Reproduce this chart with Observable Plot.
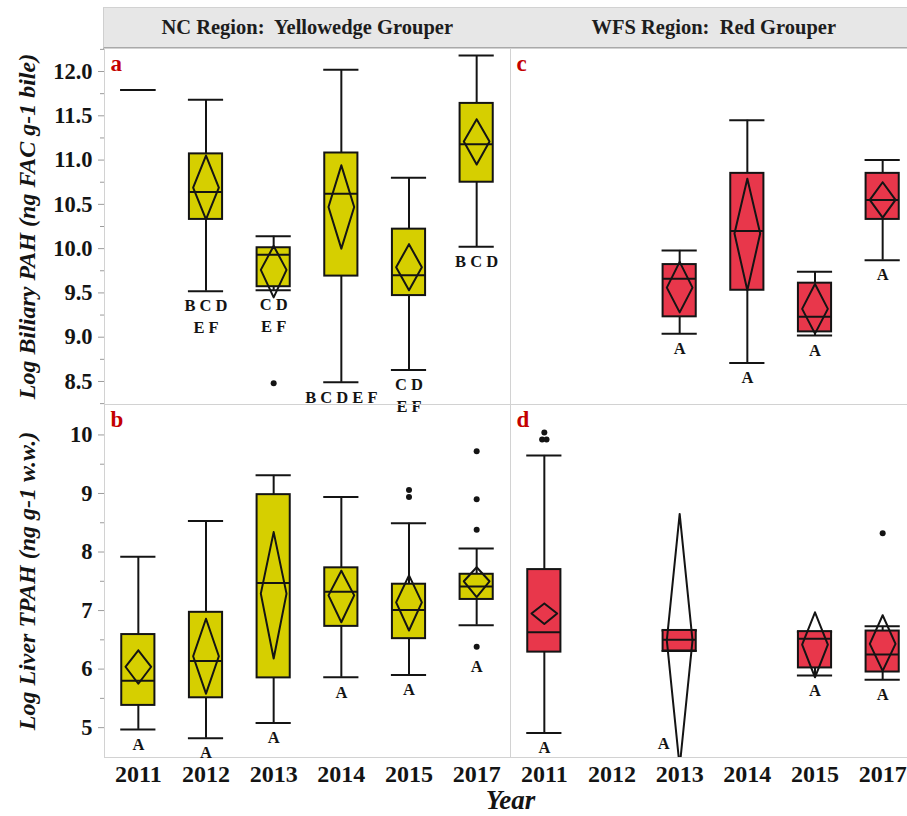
<!DOCTYPE html>
<html>
<head>
<meta charset="utf-8">
<script src="https://cdn.jsdelivr.net/npm/d3@7"></script>
<script src="https://cdn.jsdelivr.net/npm/@observablehq/plot@0.6"></script>
<style>
  html, body { margin: 0; padding: 0; background: #fff; overflow: hidden; width: 907px; height: 816px; }
  #chart { position: relative; width: 916px; height: 816px; }
  .header {
    position: absolute; left: 103px; top: 7px; width: 813px; height: 39px;
    background: #e7e7e7; border-top: 1px solid #d2d2d2; border-left: 1px solid #cfcfcf;
    border-bottom: 2px solid #a9a9a9; display: flex;
    font-family: "Liberation Serif", "Times New Roman", serif; font-weight: bold;
    font-size: 20.5px; color: #1d1d1d;
  }
  .header div { flex: 1; display: flex; align-items: center; justify-content: center; white-space: pre; }
  #topPanel { position: absolute; left: 0; top: 48px; }
  #bottomPanel { position: absolute; left: 0; top: 404px; }
</style>
</head>
<body>
<div id="chart">
  <div class="header" id="header"></div>
  <div id="topPanel"></div>
  <div id="bottomPanel"></div>
</div>
<script>
// Sampling years (x categories) and the two regions (column facets)
const years = ["2011", "2012", "2013", "2014", "2015", "2017"];
const regionKeys = ["NC", "WFS"];
const regionTitles = ["NC Region:  Yellowedge Grouper", "WFS Region:  Red Grouper"];
const regionFills = ["#d6cf00", "#e8374b"];

// Panel tags and y-axis titles
const bileTags = ["a", "c"];
const liverTags = ["b", "d"];
const bileTitle = "Log Biliary PAH (ng FAC g-1 bile)";
const liverTitle = "Log Liver TPAH (ng g-1 w.w.)";

// Y tick labels
const bileTicks = [8.5, 9.0, 9.5, 10.0, 10.5, 11.0, 11.5, 12.0];
const liverTicks = [5, 6, 7, 8, 9, 10];

// Box summaries: year, lower whisker, Q1, median, Q3, upper whisker,
// lower 95% CI, mean, upper 95% CI, letter grouping
const bileNC = [
  ["2011", 11.79, 11.79, 11.79, 11.79, 11.79, null, null, null, ""],
  ["2012", 9.52, 10.33, 10.64, 11.07, 11.68, 10.33, 10.69, 11.05, "B C D\nE F"],
  ["2013", 9.53, 9.57, 9.93, 10.01, 10.14, 9.45, 9.76, 10.03, "C D\nE F"],
  ["2014", 8.49, 9.69, 10.62, 11.08, 12.02, 10.00, 10.47, 10.94, "B C D E F"],
  ["2015", 8.63, 9.47, 9.70, 10.22, 10.80, 9.53, 9.79, 10.05, "C D\nE F"],
  ["2017", 10.02, 10.75, 11.18, 11.64, 12.18, 10.95, 11.21, 11.46, "B C D"]
];
const bileWFS = [
  ["2013", 9.04, 9.23, 9.66, 9.82, 9.98, 9.28, 9.56, 9.85, "A"],
  ["2014", 8.71, 9.53, 10.20, 10.85, 11.45, 9.53, 10.17, 10.79, "A"],
  ["2015", 9.02, 9.06, 9.23, 9.61, 9.74, 9.04, 9.32, 9.60, "A"],
  ["2017", 9.87, 10.33, 10.55, 10.85, 11.00, 10.35, 10.55, 10.75, "A"]
];
const liverNC = [
  ["2011", 4.97, 5.38, 5.80, 6.59, 7.92, 5.75, 6.04, 6.32, "A"],
  ["2012", 4.82, 5.51, 6.14, 6.97, 8.53, 5.58, 6.22, 6.86, "A"],
  ["2013", 5.08, 5.85, 7.47, 8.98, 9.31, 6.18, 7.29, 8.34, "A"],
  ["2014", 5.86, 6.73, 7.32, 7.73, 8.94, 6.80, 7.26, 7.68, "A"],
  ["2015", 5.90, 6.52, 7.01, 7.45, 8.49, 6.66, 7.14, 7.60, "A"],
  ["2017", 6.75, 7.19, 7.41, 7.62, 8.06, 7.23, 7.50, 7.74, "A"]
];
const liverWFS = [
  ["2011", 4.91, 6.29, 6.63, 7.70, 9.65, 6.77, 6.95, 7.12, "A"],
  ["2013", 6.31, 6.31, 6.50, 6.66, 6.66, 4.33, 6.49, 8.65, "A"],
  ["2015", 5.89, 6.02, 6.52, 6.64, 6.64, 5.86, 6.42, 6.97, "A"],
  ["2017", 5.82, 5.95, 6.25, 6.65, 6.73, 5.97, 6.43, 6.92, "A"]
];

// Outlying observations: year, value
const bileNCOut = [["2013", 8.48]];
const bileWFSOut = [];
const liverNCOut = [["2015", 9.06], ["2015", 8.94], ["2017", 9.72], ["2017", 8.90], ["2017", 8.38], ["2017", 6.38]];
const liverWFSOut = [["2011", 10.04], ["2011", 9.92], ["2011", 9.92], ["2017", 8.32]];

const FONT = '"Liberation Serif", "Times New Roman", serif';
const INK = "#141414";
const BOX_HALF = 0.245, CAP_HALF = 0.26, DIAMOND_HALF = 0.19;

// Column headers
const header = document.getElementById("header");
regionTitles.forEach(t => { const d = document.createElement("div"); d.textContent = t; header.appendChild(d); });

function toRows(arr, region) {
  return arr.map(([year, lo, q1, med, q3, hi, ciLo, mean, ciHi, letters]) =>
    ({region, year, i: years.indexOf(year), lo, q1, med, q3, hi, ciLo, mean, ciHi, letters}));
}
function toOutliers(arr, region) {
  const pts = arr.map(([year, v]) => ({region, year, i: years.indexOf(year), v}));
  // identical values sit side by side
  const groups = d3.group(pts, d => `${d.year}|${d.v}`);
  for (const g of groups.values()) g.forEach((d, k) => { d.x = d.i + (k - (g.length - 1) / 2) * 0.065; });
  return pts;
}

function panelMarks({rows, outliers, domain, ticks, minor, fmt, title, tags, xAxis}) {
  const fillOf = d => regionFills[regionKeys.indexOf(d.region)];
  const diamonds = rows.filter(d => d.mean != null).flatMap(d =>
    [[0, d.ciHi], [DIAMOND_HALF, d.mean], [0, d.ciLo], [-DIAMOND_HALF, d.mean], [0, d.ciHi]]
      .map(([o, v]) => ({region: d.region, key: d.region + d.year, x: d.i + o, y: v})));

  // letter groupings go below the lower whisker, or below a low outlier close to it
  const underWhisker = [], underOutlier = [], atFloor = [];
  for (const d of rows) {
    if (!d.letters) continue;
    if (d.ciLo != null && d.ciLo < domain[0]) { atFloor.push(d); continue; }
    const near = outliers.filter(o => o.region === d.region && o.year === d.year && o.v < d.lo && d.lo - o.v < 0.5);
    if (near.length) underOutlier.push({...d, at: d3.min(near, o => o.v)});
    else underWhisker.push({...d, at: d.lo});
  }
  const letterStyle = {fx: "region", x: "i", y: "at", text: "letters", lineAnchor: "top",
    fontSize: 16.5, fontWeight: "bold", fill: INK, lineHeight: 1.3};
  const tagRows = regionKeys.map((r, k) => ({region: r, tag: tags[k]}));

  const marks = [
    Plot.frame({stroke: "#d2d2d2"}),
    Plot.axisY({ticks: minor, tickSize: 4, tickFormat: () => "", stroke: "#9c9c9c", label: null}),
    Plot.axisY({ticks, tickSize: 6, tickPadding: 6, tickFormat: fmt, stroke: "#9c9c9c", fill: INK,
      fontSize: 22.5, fontWeight: "bold", label: null, ariaLabel: "y ticks"}),
    Plot.text([title], {fx: () => "NC", text: d => d, frameAnchor: "left", textAnchor: "middle", dx: -77, rotate: -90,
      fontSize: 24, fontWeight: "bold", fontStyle: "italic", fill: INK}),
    Plot.text(tagRows, {fx: "region", text: "tag", frameAnchor: "top-left", dx: 6, dy: 6, lineAnchor: "top",
      fontSize: 23, fontWeight: "bold", fill: "#c40000"}),
    // whiskers
    Plot.ruleX(rows, {fx: "region", x: "i", y1: "lo", y2: "q1", stroke: INK, strokeWidth: 2}),
    Plot.ruleX(rows, {fx: "region", x: "i", y1: "q3", y2: "hi", stroke: INK, strokeWidth: 2}),
    Plot.ruleY(rows, {fx: "region", y: "lo", x1: d => d.i - CAP_HALF, x2: d => d.i + CAP_HALF, stroke: INK, strokeWidth: 2}),
    Plot.ruleY(rows, {fx: "region", y: "hi", x1: d => d.i - CAP_HALF, x2: d => d.i + CAP_HALF, stroke: INK, strokeWidth: 2}),
    // interquartile box and median
    Plot.rect(rows, {fx: "region", x1: d => d.i - BOX_HALF, x2: d => d.i + BOX_HALF, y1: "q1", y2: "q3",
      fill: fillOf, stroke: INK, strokeWidth: 2}),
    Plot.ruleY(rows, {fx: "region", y: "med", x1: d => d.i - BOX_HALF, x2: d => d.i + BOX_HALF, stroke: INK, strokeWidth: 2}),
    // means diamonds (mean and 95% confidence interval)
    Plot.line(diamonds, {fx: "region", x: "x", y: "y", z: "key", stroke: INK, strokeWidth: 2, clip: true}),
    Plot.dot(outliers, {fx: "region", x: "x", y: "v", r: 3, fill: INK, stroke: null}),
    Plot.text(underWhisker, {...letterStyle, dy: 5}),
    Plot.text(underOutlier, {...letterStyle, dy: 10}),
    Plot.text(atFloor, {fx: "region", x: "i", text: "letters", frameAnchor: "bottom", textAnchor: "middle", dx: -16, dy: -14,
      lineAnchor: "middle", fontSize: 16.5, fontWeight: "bold", fill: INK})
  ];
  if (xAxis) {
    marks.push(
      Plot.axisX({ticks: d3.range(years.length), tickFormat: i => years[i], tickSize: 0, tickPadding: 7,
        fontSize: 24, fontWeight: "bold", fill: INK, label: null}),
      Plot.text(["Year"], {fx: () => "NC", text: d => d, frameAnchor: "bottom-right", textAnchor: "middle",
        dy: 43, lineAnchor: "middle", fontSize: 27, fontWeight: "bold", fontStyle: "italic", fill: INK})
    );
  }
  return marks;
}

function draw(target, cfg) {
  const chart = Plot.plot({
    width: 916, height: cfg.height,
    marginLeft: 103, marginRight: 0, marginTop: 0, marginBottom: cfg.marginBottom,
    style: {fontFamily: FONT, background: "transparent", overflow: "visible"},
    fx: {domain: regionKeys, padding: 0, axis: null},
    x: {domain: [-0.5, years.length - 0.5], axis: null},
    y: {domain: cfg.domain, axis: null},
    marks: panelMarks(cfg)
  });
  // widen the y tick labels slightly
  chart.querySelectorAll('g[aria-label="y ticks"] text, g[aria-label="y-axis tick label"] text').forEach(t => {
    const tr = t.getAttribute("transform");
    if (tr && tr.includes("translate")) t.setAttribute("transform", tr + " scale(1.2,1)");
  });
  document.getElementById(target).appendChild(chart);
  return chart;
}

draw("topPanel", {
  rows: [...toRows(bileNC, "NC"), ...toRows(bileWFS, "WFS")],
  outliers: [...toOutliers(bileNCOut, "NC"), ...toOutliers(bileWFSOut, "WFS")],
  domain: [8.24, 12.26], ticks: bileTicks, minor: d3.range(8.25, 12.26, 0.5), fmt: d => d.toFixed(1),
  title: bileTitle, tags: bileTags, height: 356, marginBottom: 0, xAxis: false
});
draw("bottomPanel", {
  rows: [...toRows(liverNC, "NC"), ...toRows(liverWFS, "WFS")],
  outliers: [...toOutliers(liverNCOut, "NC"), ...toOutliers(liverWFSOut, "WFS")],
  domain: [4.49, 10.52], ticks: liverTicks, minor: d3.range(5.5, 10.5, 1), fmt: d => String(d),
  title: liverTitle, tags: liverTags, height: 412, marginBottom: 59, xAxis: true
});
</script>
</body>
</html>
